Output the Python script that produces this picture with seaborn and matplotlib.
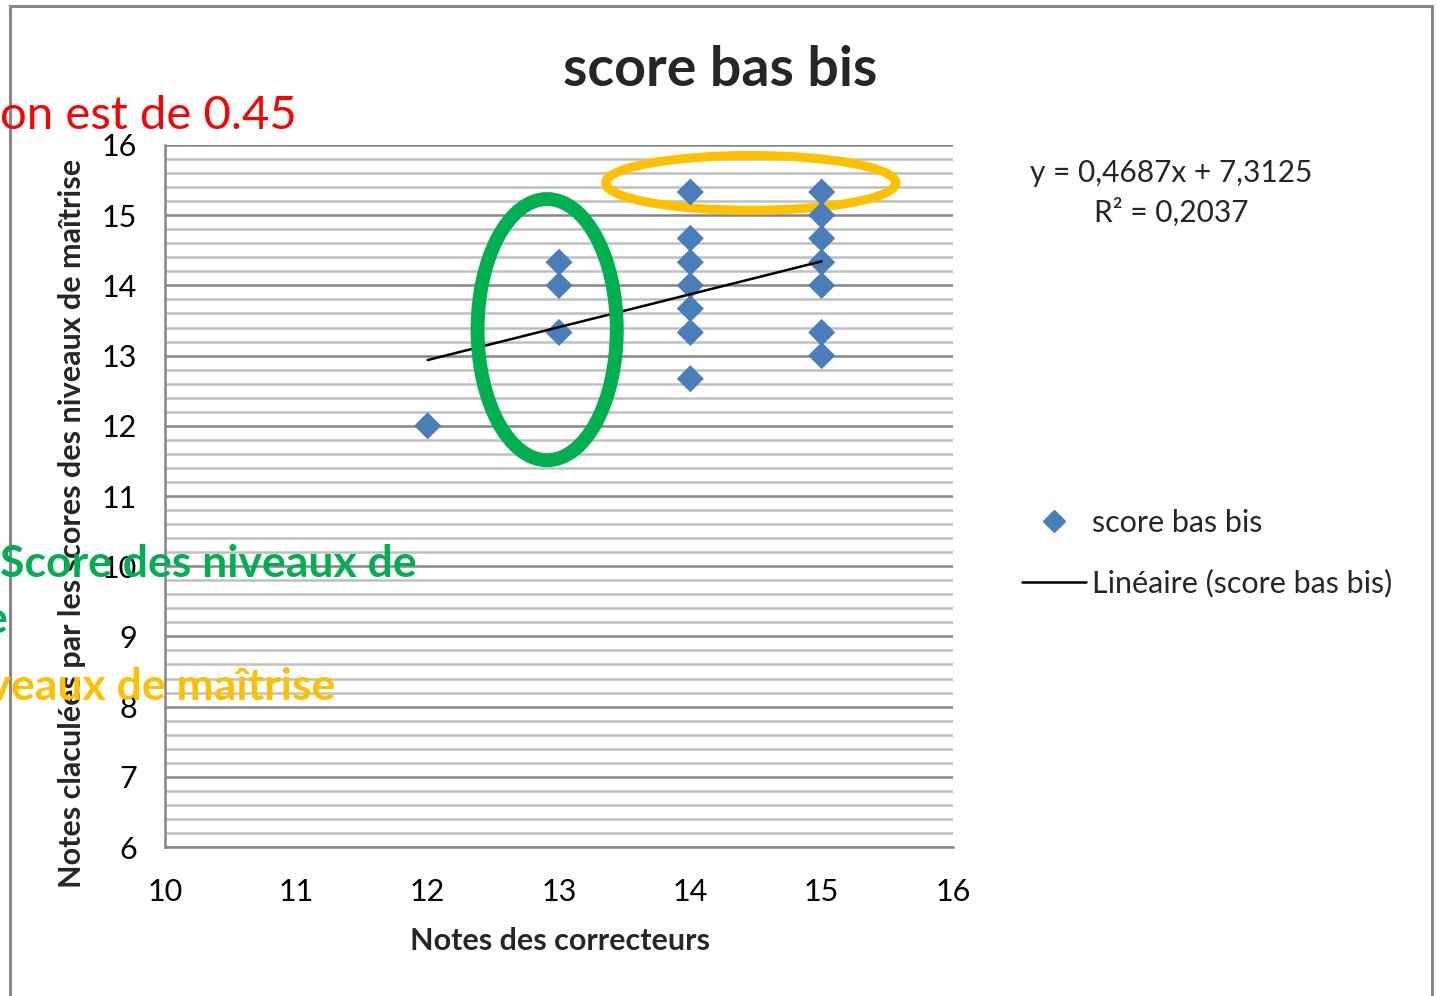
import matplotlib.pyplot as plt
import seaborn as sns
import pandas as pd
from matplotlib.patches import Ellipse, Rectangle
from matplotlib.lines import Line2D

# donnees
notes_correcteurs = [12, 13, 13, 13, 14, 14, 14, 14, 14, 14, 14,
                     15, 15, 15, 15, 15, 15, 15]
notes_calculees = [12.0, 14.33, 14.0, 13.33,
                   15.33, 14.67, 14.33, 14.0, 13.67, 13.33, 12.67,
                   15.33, 15.0, 14.67, 14.33, 14.0, 13.33, 13.0]

# tendance lineaire (Excel)
pente = 0.4687
ordonnee = 7.3125
r_carre = 0.2037
x_tendance = [12, 15]

x_ticks = [10, 11, 12, 13, 14, 15, 16]
y_ticks = [6, 7, 8, 9, 10, 11, 12, 13, 14, 15, 16]

W, H = 1437, 996
BLEU = "#4A7EBB"
GRIS = "#868686"


def fx(px):
    return px / W


def fy(py):
    return 1 - py / H


def plot_score_bas_bis():
    sns.set_style("white")
    plt.rcParams["font.family"] = ["Lato", "DejaVu Sans"]

    df = pd.DataFrame({"x": notes_correcteurs, "y": notes_calculees})
    tendance = pd.DataFrame({"x": x_tendance,
                             "y": [pente * v + ordonnee for v in x_tendance]})

    fig = plt.figure(figsize=(W / 100, H / 100), dpi=100)
    ax = fig.add_axes([fx(165), fy(847), fx(953) - fx(165), fy(145) - fy(847)])

    sns.scatterplot(data=df, x="x", y="y", marker="D", s=190, color=BLEU,
                    edgecolor="none", ax=ax, zorder=3)
    sns.lineplot(data=tendance, x="x", y="y", color="black", lw=1.8, ax=ax, zorder=4)

    ax.set_xlim(10, 16)
    ax.set_ylim(6, 16)
    ax.set_xticks(x_ticks)
    ax.set_yticks(y_ticks)
    ax.set_yticks([v / 5 for v in range(30, 81)], minor=True)
    ax.grid(axis="y", which="major", color=GRIS, lw=1.8, zorder=0)
    ax.grid(axis="y", which="minor", color="#C0C0C0", lw=1.8, zorder=0)
    ax.grid(axis="x", visible=False)
    ax.set_axisbelow(True)
    for s in ["top", "right"]:
        ax.spines[s].set_visible(False)
    for s in ["left", "bottom"]:
        ax.spines[s].set_color(GRIS)
        ax.spines[s].set_linewidth(1.8)
    ax.tick_params(axis="both", which="major", direction="out", length=6,
                   width=1.6, color=GRIS, labelsize=22, labelcolor="black")
    ax.tick_params(axis="x", pad=16)
    ax.tick_params(axis="y", pad=14)
    ax.tick_params(which="minor", length=0)
    ax.set_xlabel("")
    ax.set_ylabel("")

    # annotations (ellipses)
    ax.add_patch(Ellipse((14.46, 15.46), 2.21, 0.78, fill=False, ec="#FFC000",
                         lw=6.5, zorder=2, clip_on=False))
    ax.add_patch(Ellipse((12.91, 13.37), 1.06, 3.72, fill=False, ec="#00B050",
                         lw=10, zorder=5, clip_on=False))

    # titres
    fig.text(fx(720), fy(70), "score bas bis", ha="center", va="center",
             fontsize=40, weight="bold")
    fig.text(fx(560), fy(941), "Notes des correcteurs", ha="center", va="center",
             fontsize=22, weight="bold")
    fig.text(fx(72), fy(523), "Notes claculées par les scores des niveaux de maîtrise",
             ha="center", va="center", rotation=90, fontsize=22, weight="bold")

    # equation de la tendance
    fig.text(fx(1171), fy(182), "y = 0,4687x + 7,3125", ha="center", va="baseline",
             fontsize=21.5)
    fig.text(fx(1171), fy(222), "R² = 0,2037", ha="center", va="baseline",
             fontsize=21.5)

    # legende
    handles = [Line2D([], [], marker="D", ls="none", color=BLEU, markersize=11),
               Line2D([], [], color="black", lw=1.8)]
    fig.legend(handles, ["score bas bis", "Linéaire (score bas bis)"],
               loc="center left", bbox_to_anchor=(fx(1022), fy(553)),
               frameon=False, fontsize=22, handlelength=2.1, handletextpad=0.2,
               labelspacing=1.05, borderpad=0, borderaxespad=0)

    # textes superposes (coupes a gauche)
    fig.text(fx(297), fy(129), "Le coefficient de Pearson est de 0.45", ha="right",
             va="baseline", color="#FF0000", fontsize=34)
    fig.text(fx(0), fy(577), "Score des niveaux de", ha="left", va="baseline",
             color="#00B050", fontsize=32, weight="bold")
    fig.text(fx(8), fy(633), "maîtrise", ha="right", va="baseline",
             color="#00B050", fontsize=32, weight="bold")
    fig.text(fx(335), fy(700), "Score des niveaux de maîtrise", ha="right",
             va="baseline", color="#FFC000", fontsize=32, weight="bold")

    # cadre
    fig.patches.append(Rectangle((fx(9.5), fy(1010)), fx(1422), fy(5.5) - fy(1010),
                                 transform=fig.transFigure, fill=False, ec="#888888",
                                 lw=2.2))

    fig.savefig("out.png", dpi=100)


plot_score_bas_bis()
